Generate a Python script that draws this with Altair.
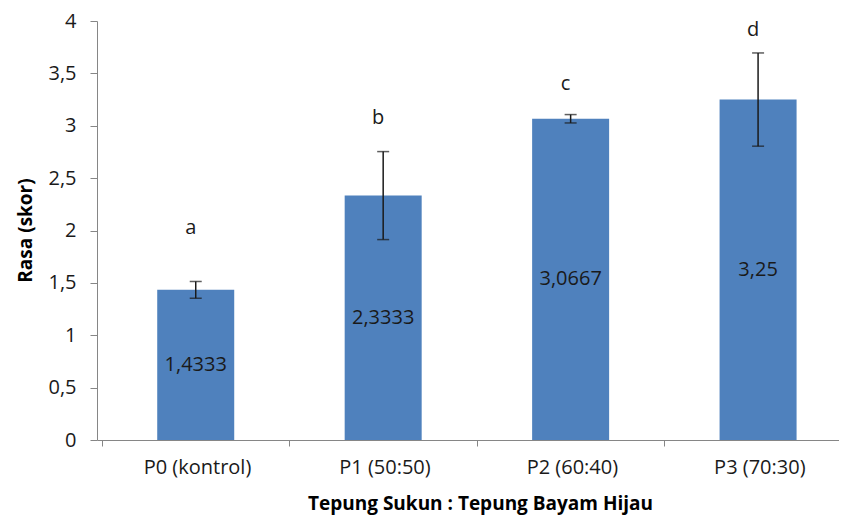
import altair as alt
import pandas as pd

categories = ["P0 (kontrol)", "P1 (50:50)", "P2 (60:40)", "P3 (70:30)"]
positions = [0, 1, 2, 3]
values = [1.4333, 2.3333, 3.0667, 3.25]
errors = [0.08, 0.42, 0.04, 0.445]
letters = ["a", "b", "c", "d"]
letter_y = [2.02, 3.07, 3.40, 3.91]
y_ticks = [0, 0.5, 1, 1.5, 2, 2.5, 3, 3.5, 4]
x_boundaries = [-0.5, 0.5, 1.5, 2.5]

df = pd.DataFrame({
    "pos": positions,
    "cat": categories,
    "value": values,
    "err": errors,
    "letter": letters,
    "letter_y": letter_y,
    "label": [str(v).replace(".", ",") for v in values],
})
df["lo"] = df["value"] - df["err"]
df["hi"] = df["value"] + df["err"]
df["mid"] = df["value"] / 2

FONT = "Open Sans"
cat_js = "[" + ",".join("'" + c + "'" for c in categories) + "]"

x_scale = alt.Scale(domain=[-0.5, 3.405], nice=False, zero=False)
y_scale = alt.Scale(domain=[0, 4], nice=False)

x_axis = alt.Axis(
    values=x_boundaries,
    labelExpr=cat_js + "[round(datum.value + 0.5)]",
    labelOffset=95,
    labelOverlap=False,
    labelFlush=False,
    labelPadding=11,
    tickSize=6,
    grid=False,
    title="Tepung Sukun : Tepung Bayam Hijau",
    titleX=383,
    titleY=63,
    titleBaseline="middle",
    titleAnchor="middle",
    titleAlign="center",
)
y_axis = alt.Axis(
    values=y_ticks,
    format="~g",
    labelExpr="replace(datum.label, '.', ',')",
    labelPadding=14,
    tickSize=7,
    grid=False,
    title="Rasa (skor)",
    titleX=-72,
    titleY=209,
    titleBaseline="middle",
    titleAlign="center",
)

base = alt.Chart(df)

bars = base.mark_bar(color="#4F81BD", size=77).encode(
    x=alt.X("pos:Q", scale=x_scale, axis=x_axis),
    y=alt.Y("value:Q", scale=y_scale, axis=y_axis),
)

err_rule = base.mark_rule(color="#1a1a1a", strokeWidth=1.5).encode(
    x="pos:Q", y="lo:Q", y2="hi:Q"
)
cap_lo = base.mark_tick(color="#1a1a1a", size=12, thickness=1.5, orient="horizontal").encode(
    x="pos:Q", y="lo:Q"
)
cap_hi = base.mark_tick(color="#1a1a1a", size=12, thickness=1.5, orient="horizontal").encode(
    x="pos:Q", y="hi:Q"
)

value_text = base.mark_text(font=FONT, fontSize=20, color="#1a1a1a", baseline="middle").encode(
    x="pos:Q", y="mid:Q", text="label:N"
)
letter_text = base.mark_text(font=FONT, fontSize=20, color="#1a1a1a", baseline="middle", dx=-5).encode(
    x="pos:Q", y="letter_y:Q", text="letter:N"
)

chart = alt.layer(bars, err_rule, cap_lo, cap_hi, value_text, letter_text).properties(
    width=742,
    height=419,
    background="white",
    autosize=alt.AutoSizeParams(type="none"),
    padding={"left": 89, "top": 13, "right": 0, "bottom": 76},
).configure_view(stroke=None).configure_axis(
    domainColor="#868686",
    tickColor="#868686",
    labelFont=FONT,
    labelFontSize=20,
    labelColor="#1a1a1a",
    titleFont=FONT,
    titleFontSize=19,
    titleFontWeight="bold",
    titleColor="#000000",
)

chart.save("out.html", embed_options={"renderer": "svg", "actions": False})
